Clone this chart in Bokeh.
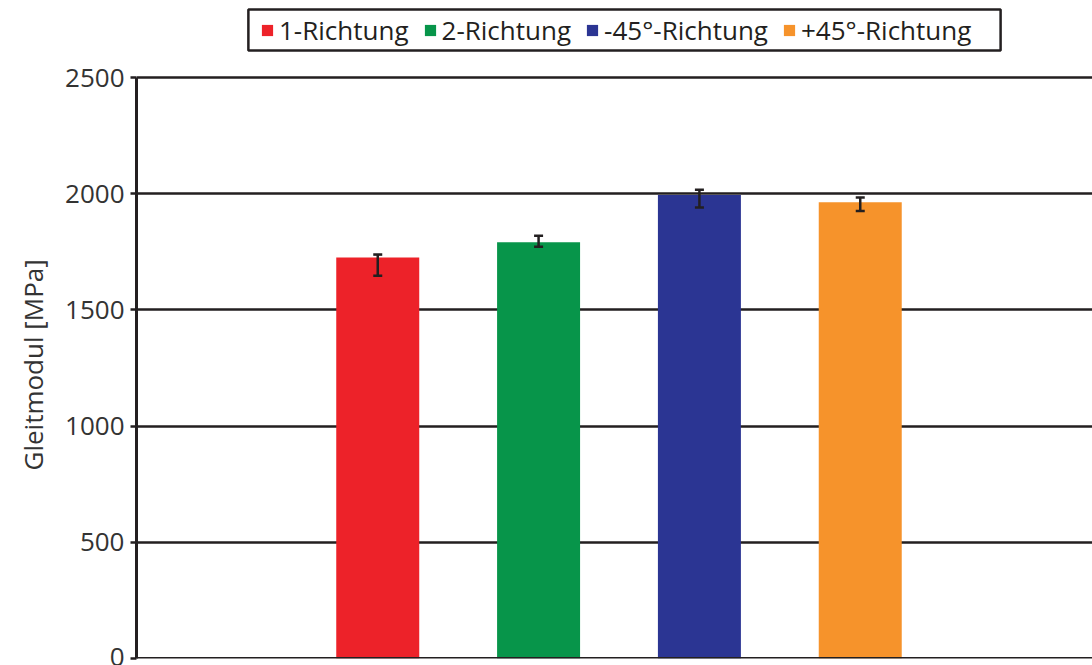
from bokeh.plotting import figure
from bokeh.models import (ColumnDataSource, Range1d, Whisker, TeeHead, Legend, LegendItem,
                          Span, BoxAnnotation, Title)
from bokeh.embed import file_html
from bokeh.resources import INLINE

# Shear modulus by fibre direction
categories = ["1-Richtung", "2-Richtung", "-45°-Richtung", "+45°-Richtung"]
modulus = [1726, 1791, 1994, 1963]
err_lower = [1647, 1772, 1941, 1926]
err_upper = [1738, 1819, 2017, 1984]
colors = ["#ed2229", "#07954a", "#2b3593", "#f6932b"]
y_ticks = [0, 500, 1000, 1500, 2000, 2500]
y_max = 2500

DARK = "#231f20"
FONT = "Open Sans"

# canvas geometry (pixels)
W, H = 1092, 665
LEFT, BOTTOM, TOP_OF_RANGE = 135, 658, 77
SLOT = 161  # pixels per category slot

px_per_unit = (BOTTOM - TOP_OF_RANGE) / y_max


def px_x(px):
    return (px - LEFT) / SLOT


def px_y(py):
    return (BOTTOM - py) / px_per_unit


xpos = [i + 1.5 for i in range(len(categories))]
src = ColumnDataSource(dict(x=xpos, top=modulus, lower=err_lower, upper=err_upper,
                            color=colors, name=categories))

# the frame reaches up to the top of the canvas so the legend can sit above the value range
p = figure(width=W, height=H, output_backend="svg", toolbar_location=None,
           x_range=Range1d(0, px_x(W)), y_range=Range1d(0, px_y(0)),
           min_border_left=LEFT, min_border_right=0, min_border_bottom=H - BOTTOM,
           min_border_top=0)
p.outline_line_color = None
p.background_fill_color = "white"
p.border_fill_color = "white"

bars = p.vbar(x="x", top="top", width=0.516, fill_color="color", line_color=None, source=src)

whisk = Whisker(base="x", lower="lower", upper="upper", source=src,
                line_color=DARK, line_width=2.5, level="overlay",
                upper_head=TeeHead(size=9, line_color=DARK, line_width=2.5),
                lower_head=TeeHead(size=9, line_color=DARK, line_width=2.5))
p.add_layout(whisk)

# baseline at zero
p.add_layout(Span(location=0, dimension="width", line_color=DARK, line_width=3))

p.xaxis.visible = False
p.xgrid.visible = False
p.ygrid.grid_line_color = DARK
p.ygrid.grid_line_width = 2.5
p.ygrid.ticker = y_ticks

ax = p.yaxis[0]
ax.ticker = y_ticks
ax.bounds = (0, y_max)
ax.axis_line_color = DARK
ax.axis_line_width = 3
ax.major_tick_line_color = DARK
ax.major_tick_line_width = 2.5
ax.major_tick_out = 6
ax.major_tick_in = 0
ax.minor_tick_line_color = None
ax.major_label_text_font = FONT
ax.major_label_text_font_size = "26px"
ax.major_label_text_color = "#333333"
ax.major_label_standoff = 6

# axis title, starting from the bottom of the frame and lifted to sit centred on the value range
p.add_layout(Title(text="Gleitmodul [MPa]", align="left", offset=188,
                   standoff=24, text_font=FONT, text_font_size="26px",
                   text_font_style="normal", text_color="#333333"), "left")

items = [LegendItem(label=c, renderers=[bars], index=i) for i, c in enumerate(categories)]
legend = Legend(items=items, orientation="horizontal", location=(259 - LEFT, BOTTOM - 48),
                label_text_font=FONT, label_text_font_size="26px", label_text_color=DARK,
                glyph_width=14, glyph_height=14, label_standoff=5, spacing=14,
                padding=3, margin=0, border_line_color=None, background_fill_alpha=0.0)
p.add_layout(legend, "center")

# legend frame
p.add_layout(BoxAnnotation(left=px_x(247), right=px_x(1000), top=px_y(9), bottom=px_y(50),
                           fill_color=None, line_color=DARK, line_width=2.5, line_alpha=1.0,
                           level="overlay"))

open("out.html", "w").write(file_html(p, INLINE))
